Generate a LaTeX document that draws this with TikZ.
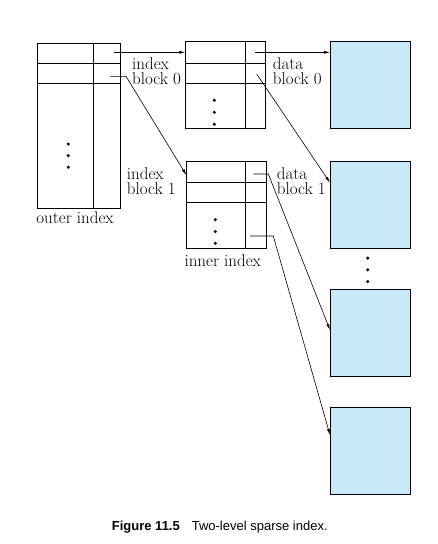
\documentclass[tikz,border=0pt]{standalone}
\usepackage{fontspec}
\newfontfamily\capfont{Liberation Sans}
\usetikzlibrary{arrows.meta,calc,positioning}
\definecolor{Datablue}{RGB}{199,232,248}
\tikzset{
  blk/.style={draw, line width=0.8pt, anchor=north west, inner sep=0pt, outer sep=0pt,
    minimum width=80.5pt, minimum height=87pt},
  datablk/.style={blk, fill=Datablue, minimum width=80pt},
  ptr/.style={-{Latex[length=6pt,width=3pt]}, line width=0.6pt},
  lbl/.style={anchor=north west, inner sep=0pt, align=left, font=\fontsize{17}{15.7}\selectfont},
}

\begin{document}
\begin{tikzpicture}[x=1pt,y=-1pt]
\useasboundingbox (0,0) rectangle (438,544);
% blocks
\node[blk, minimum width=83pt, minimum height=164.7pt] (outer) at (37.3,43.3) {};
\node[blk] (ib0) at (185.3,41) {};
\node[blk] (ib1) at (186.3,161.7) {};
\node[datablk] (db0) at (330,41) {};
\node[datablk] (db1) at (330,161.7) {};
\node[datablk] (db2) at (330,289.7) {};
\node[datablk] (db3) at (330,407) {};
%
% cells
\draw[line width=0.8pt] ($(outer.north west)+(56.4,0)$) -- ($(outer.south west)+(56.4,0)$);
\foreach \r in {19.7,39.7}
  \draw[line width=0.8pt] ($(outer.north west)+(0,\r)$) -- ($(outer.north east)+(0,\r)$);
\draw[line width=0.8pt] ($(ib0.north west)+(59.7,0)$) -- ($(ib0.south west)+(59.7,0)$);
\foreach \r in {22,42}
  \draw[line width=0.8pt] ($(ib0.north west)+(0,\r)$) -- ($(ib0.north east)+(0,\r)$);
\draw[line width=0.8pt] ($(ib1.north west)+(59.4,0)$) -- ($(ib1.south west)+(59.4,0)$);
\foreach \r in {21,41}
  \draw[line width=0.8pt] ($(ib1.north west)+(0,\r)$) -- ($(ib1.north east)+(0,\r)$);
%
% dots
\foreach \d in {0,1,2} {
  \fill ($(outer.north west)+(31,100.7+11.6*\d)$) circle (1.7);
  \fill ($(ib0.north west)+(29,59.3+12*\d)$) circle (1.7);
  \fill ($(ib1.north west)+(29,58+11.8*\d)$) circle (1.7);
  \fill ($(db1.south west)+(37.7,9.4+11.7*\d)$) circle (1.7);
}
%
% labels
\node[lbl] (lib0) at (132,57.2) {index\\block 0};
\node[lbl] (ldb0) at (272.7,57.2) {data\\block 0};
\node[lbl] (lib1) at (126.7,167.2) {index\\block 1};
\node[lbl] (ldb1) at (276.7,167.2) {data\\block 1};
\node[lbl] (louter) at (36.2,211.5) {outer index};
\node[lbl] (linner) at (184.3,254.9) {inner index};
%
% pointers
\coordinate (o1) at (114,52.3);
\coordinate (o2) at (110,76.3);
\coordinate (a1) at (255.3,52.3);
\coordinate (a2) at (256.7,74);
\coordinate (b1) at (253.3,174);
\coordinate (b2) at (250,236);
\draw[ptr] (o1) -- (o1 -| ib0.west);
\draw[ptr] (o2) -- ++(16,0) -- ($(ib1.north west)+(0,13.3)$);
\draw[ptr] (a1) -- (a1 -| db0.west);
\draw[ptr] (a2) -- ($(db1.north west)+(0,21)$);
\draw[ptr] (b1) -- ++(15,0) -- ($(db2.north west)+(0,40.3)$);
\draw[ptr] (b2) -- ++(23.3,0) -- ($(db3.north west)+(0,28)$);
%
% caption
\node[anchor=base west, inner sep=0pt, font=\capfont\fontsize{13}{15}\selectfont] (cap) at (111.7,530.5)
  {\textbf{Figure 11.5}\hspace{12pt}Two-level sparse index.};
\end{tikzpicture}
\end{document}
